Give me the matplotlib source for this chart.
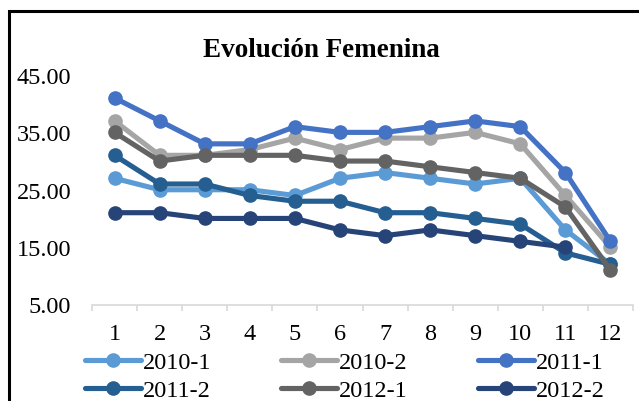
import numpy as np
import matplotlib
matplotlib.use("Agg")
import matplotlib.pyplot as plt
from matplotlib.patches import Rectangle

months = [str(i) for i in range(1, 13)]
s2010_1 = [27, 25, 25, 25, 24, 27, 28, 27, 26, 27, 18, 12]
s2010_2 = [37, 31, 31, 32, 34, 32, 34, 34, 35, 33, 24, 15]
s2011_1 = [41, 37, 33, 33, 36, 35, 35, 36, 37, 36, 28, 16]
s2011_2 = [31, 26, 26, 24, 23, 23, 21, 21, 20, 19, 14, 12]
s2012_1 = [35, 30, 31, 31, 31, 30, 30, 29, 28, 27, 22, 11]
s2012_2 = [21, 21, 20, 20, 20, 18, 17, 18, 17, 16, 15, np.nan]

series = [
    ("2010-1", s2010_1, "#5B9BD5"),
    ("2010-2", s2010_2, "#A5A5A5"),
    ("2011-1", s2011_1, "#4472C4"),
    ("2011-2", s2011_2, "#255E91"),
    ("2012-1", s2012_1, "#636363"),
    ("2012-2", s2012_2, "#264478"),
]
yticks = [5, 15, 25, 35, 45]
title = "Evolución Femenina"

plt.rcParams['font.family'] = ['Liberation Serif', 'DejaVu Serif']
FS = 17.5

fig = plt.figure(figsize=(6.39, 4.02), dpi=100)
ax = fig.add_axes([92/639, 1 - 305.5/402, (633-92)/639, (305.5-76)/402])

x = np.arange(1, 13)
handles = []
for name, vals, col in series:
    h, = ax.plot(x, vals, color=col, lw=3.7, marker='o', ms=9.5,
                 label=name, solid_capstyle='round', solid_joinstyle='round')
    handles.append(h)

ax.set_xlim(0.5, 12.5)
ax.set_ylim(5, 45)
ax.set_yticks(yticks)
ax.set_yticklabels([f"{v:.2f}" for v in yticks])
ax.set_xticks(x)
ax.set_xticklabels(months)
ax.set_xticks(np.arange(0.5, 13, 1), minor=True)

for s in ['top', 'right', 'left']:
    ax.spines[s].set_visible(False)
ax.spines['bottom'].set_color('#D9D9D9')
ax.spines['bottom'].set_linewidth(1.2)

ax.tick_params(axis='y', length=0, pad=15, labelsize=FS)
ax.tick_params(axis='x', which='major', length=0, pad=13.5, labelsize=FS)
ax.tick_params(axis='x', which='minor', length=4, width=1.2, color='#D9D9D9')

fig.text(321.5/639, 1 - 57/402, title, ha='center', va='baseline',
         fontsize=19.5, fontweight='bold')

# matplotlib fills legend columns first; reorder to get row-wise order
order = [0, 3, 1, 4, 2, 5]
fig.legend(handles=[handles[i] for i in order], loc='upper left', ncol=3,
           bbox_to_anchor=(85/639, 1 - 352/402), frameon=False,
           fontsize=FS, handlelength=2.3, handletextpad=0.08,
           columnspacing=2.88, labelspacing=0.25, borderaxespad=0,
           borderpad=0)

fig.patches.append(Rectangle((9/639, -0.2), 1.2, 1 - 12/402 + 0.2,
                             transform=fig.transFigure, fill=False,
                             edgecolor='black', lw=2.2))

fig.savefig("out.png", dpi=100)
